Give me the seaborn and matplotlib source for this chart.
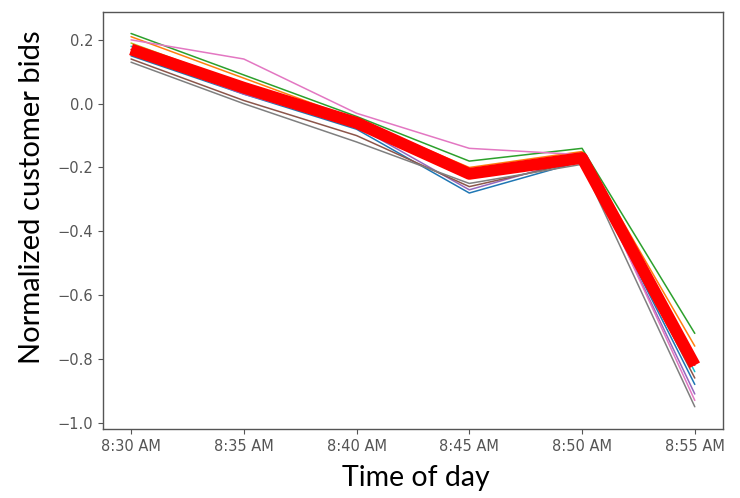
import pandas as pd
import seaborn as sns
import matplotlib
matplotlib.use("Agg")
import matplotlib.pyplot as plt

times = ["8:30 AM", "8:35 AM", "8:40 AM", "8:45 AM", "8:50 AM", "8:55 AM"]

# one thin line per customer group, thick red = average
blue = [0.15, 0.03, -0.08, -0.28, -0.18, -0.88]
orange = [0.21, 0.08, -0.05, -0.20, -0.15, -0.76]
green = [0.22, 0.09, -0.04, -0.18, -0.14, -0.72]
red = [0.17, 0.05, -0.06, -0.22, -0.17, -0.82]
purple = [0.16, 0.03, -0.07, -0.27, -0.17, -0.91]
brown = [0.14, 0.01, -0.10, -0.26, -0.18, -0.86]
pink = [0.20, 0.14, -0.03, -0.14, -0.16, -0.93]
gray = [0.13, 0.00, -0.12, -0.25, -0.19, -0.95]
olive = [0.19, 0.06, -0.06, -0.21, -0.16, -0.80]
cyan = [0.18, 0.05, -0.06, -0.23, -0.17, -0.84]
average = [0.17, 0.05, -0.06, -0.22, -0.17, -0.82]

series = [blue, orange, green, red, purple, brown, pink, gray, olive, cyan]

rows = []
for i, vals in enumerate(series):
    for t, v in zip(times, vals):
        rows.append({"time": t, "bid": v, "run": i})
df = pd.DataFrame(rows)
avg_df = pd.DataFrame({"time": times, "bid": average})

sns.set_style("white")
fig = plt.figure(figsize=(7.4, 4.98), dpi=100)
ax = fig.add_axes([0.139, 0.139, 0.838, 0.837])

sns.lineplot(data=df, x="time", y="bid", hue="run", palette="tab10",
             linewidth=1.1, legend=False, ax=ax, sort=False)
sns.lineplot(data=avg_df, x="time", y="bid", color="#ff0000",
             linewidth=8.5, ax=ax, sort=False, solid_capstyle="butt")

ax.set_xlabel("")
ax.set_ylabel("")
ax.set_yticks([0.2, 0.0, -0.2, -0.4, -0.6, -0.8, -1.0])
ax.set_ylim(-1.019, 0.2875)
ax.tick_params(axis="both", labelsize=10.5, labelcolor="#555555",
               color="#555555", length=3.5, direction="out",
               left=True, bottom=True)
for s in ax.spines.values():
    s.set_color("#555555")
    s.set_linewidth(1.0)

fig.text(0.562, 0.024, "Time of day", fontsize=20.5, family="Lato",
         color="black", ha="center", va="baseline")
fig.text(0.043, 0.604, "Normalized customer bids", fontsize=21, family="Lato",
         color="black", rotation=90, ha="center", va="center")

fig.savefig("out.png", dpi=100)
